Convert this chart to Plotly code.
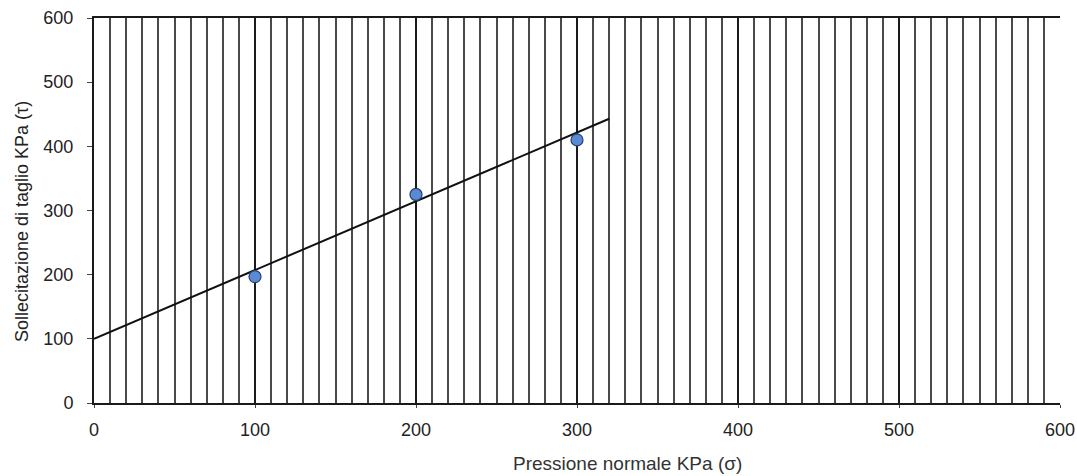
import plotly.graph_objects as go

# Data
pressione = [100, 200, 300]          # x: Pressione normale KPa (σ)
sollecitazione = [197, 325, 410]     # y: Sollecitazione di taglio KPa (τ)
trend_x = [0, 320]                   # linear trendline extent
trend_y = [100, 443]
x_ticks = [0, 100, 200, 300, 400, 500, 600]
y_ticks = [0, 100, 200, 300, 400, 500, 600]
x_title = "Pressione normale KPa (σ)"
y_title = "Sollecitazione di taglio KPa (τ)"

fig = go.Figure()
fig.add_trace(go.Scatter(
    x=trend_x, y=trend_y, mode="lines",
    line=dict(color="#111111", width=2), showlegend=False, hoverinfo="skip"))
fig.add_trace(go.Scatter(
    x=pressione, y=sollecitazione, mode="markers",
    marker=dict(size=12, color="#5a8ad6", line=dict(color="#2a3f6a", width=1.2)),
    showlegend=False))

font = dict(family="Liberation Sans, Arial, sans-serif", size=18, color="#222222")

fig.update_layout(
    width=1077, height=476,
    margin=dict(l=94, r=17, t=18, b=73),
    paper_bgcolor="white", plot_bgcolor="white",
    font=font,
    xaxis=dict(
        range=[0, 600], tickvals=x_ticks, ticktext=[str(v) for v in x_ticks],
        automargin=False,
        showgrid=True, gridcolor="#1a1a1a", gridwidth=2.2,
        minor=dict(dtick=10, tick0=0, showgrid=True, gridcolor="#4a4a4a", gridwidth=1.5),
        showline=True, linecolor="#1a1a1a", linewidth=2, mirror=True,
        ticks="outside", ticklen=3, tickcolor="#444444",
        ticklabelstandoff=6,
        zeroline=False,
    ),
    yaxis=dict(
        range=[0, 600], tickvals=y_ticks, ticktext=[str(v) for v in y_ticks],
        automargin=False,
        showgrid=False, zeroline=False,
        showline=True, linecolor="#1a1a1a", linewidth=2,
        ticks="outside", ticklen=5, tickcolor="#444444",
        ticklabelstandoff=10,
    ),
    annotations=[
        dict(text=x_title, xref="paper", yref="paper", x=0.552, y=-0.156,
             showarrow=False, xanchor="center", yanchor="middle",
             font=dict(size=19, color="#333333")),
        dict(text=y_title, xref="paper", yref="paper", x=-0.0745, y=0.47,
             showarrow=False, xanchor="center", yanchor="middle", textangle=-90,
             font=dict(size=18, color="#222222")),
    ],
)

fig.write_html("out.html", config={"displayModeBar": False},
               post_script="document.body.style.margin='0';")
